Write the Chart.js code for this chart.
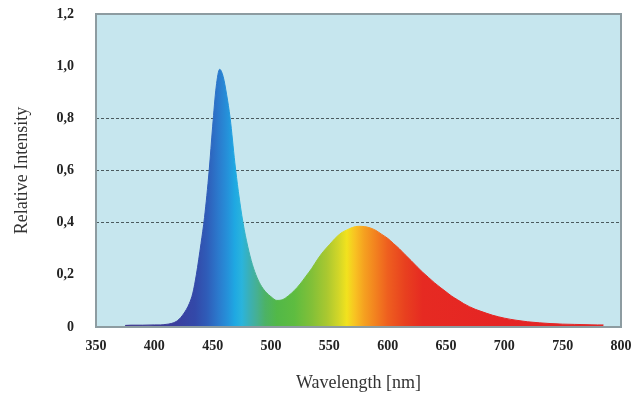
<!DOCTYPE html>
<html>
<head>
<meta charset="utf-8">
<script src="https://cdn.jsdelivr.net/npm/chart.js@4"></script>
<style>
  html, body { margin: 0; padding: 0; background: #fff; }
  #wrap { width: 631px; height: 396px; }
</style>
</head>
<body>
<div id="wrap"><canvas id="spectrum"></canvas></div>
<script>
// wavelength in nm and relative intensity
const wavelength = [375, 380, 390, 400, 405, 410, 415, 420, 425, 430, 433, 436, 440, 443, 447, 450, 453, 456, 459, 462, 465, 469, 472, 476, 480, 484, 488, 492, 496, 500, 505,
  510, 515, 520, 525, 530, 535, 540, 545, 550, 555, 560, 565, 570, 575, 580, 585, 590, 595, 600, 605, 610, 615, 620, 625, 630, 635, 640, 645, 650, 655, 660, 665, 670, 675, 680,
  690, 700, 710, 720, 730, 740, 750, 760, 770, 780, 785];
const intensity = [0.006, 0.007, 0.007, 0.008, 0.008, 0.01, 0.014, 0.025, 0.05, 0.09, 0.13, 0.2, 0.32, 0.42, 0.6, 0.77, 0.92, 0.988, 0.96, 0.89, 0.8, 0.63, 0.52, 0.4, 0.31, 0.24, 0.19, 0.155, 0.132, 0.116, 0.102,
  0.105, 0.12, 0.14, 0.165, 0.195, 0.225, 0.26, 0.29, 0.315, 0.34, 0.36, 0.372, 0.382, 0.386, 0.385, 0.38, 0.37, 0.355, 0.34, 0.32, 0.3, 0.277, 0.255, 0.232, 0.21, 0.19, 0.17, 0.152, 0.135, 0.118, 0.104, 0.09, 0.078, 0.068, 0.06,
  0.045, 0.034, 0.026, 0.02, 0.016, 0.013, 0.011, 0.01, 0.009, 0.008, 0.008];

const yTickLabels = ["0", "0,2", "0,4", "0,6", "0,8", "1,0", "1,2"];
const dashedLevels = [0.4, 0.6, 0.8];

// colour of the fill at each wavelength
const spectrumStops = [
  [375, "#3a2f88"], [400, "#3c3893"], [420, "#393f9f"], [435, "#3349a9"], [445, "#2f5cb8"],
  [455, "#2b7acd"], [463, "#2592da"], [469, "#1fa8e2"], [475, "#2ab4dc"], [481, "#3ab0b8"],
  [488, "#46b092"], [495, "#4cb266"], [505, "#52b848"], [520, "#5ebc40"], [535, "#82c038"],
  [548, "#aac830"], [558, "#d2d628"], [565, "#f2e21e"], [572, "#f8c222"], [580, "#f5a020"],
  [590, "#f2801f"], [600, "#ee5f1f"], [615, "#e8401f"], [630, "#e62a22"], [700, "#e52424"],
  [785, "#e02828"]
];

function spectrumFill(context) {
  const chart = context.chart;
  const area = chart.chartArea;
  if (!area) return "#2b78cc";
  const xs = chart.scales.x;
  const x0 = xs.getPixelForValue(375);
  const x1 = xs.getPixelForValue(785);
  const g = chart.ctx.createLinearGradient(x0, 0, x1, 0);
  spectrumStops.forEach(function (s) {
    g.addColorStop((xs.getPixelForValue(s[0]) - x0) / (x1 - x0), s[1]);
  });
  return g;
}

const plotFrame = {
  id: "plotFrame",
  beforeDraw(chart) {
    const a = chart.chartArea;
    const ctx = chart.ctx;
    ctx.save();
    ctx.fillStyle = "#c6e6ee";
    ctx.fillRect(a.left, a.top, a.right - a.left, a.bottom - a.top);
    ctx.restore();
  },
  afterDraw(chart) {
    const a = chart.chartArea;
    const ctx = chart.ctx;
    ctx.save();
    ctx.strokeStyle = "#8d9ca1";
    ctx.lineWidth = 2;
    ctx.strokeRect(a.left, a.top, a.right - a.left, a.bottom - a.top);
    ctx.restore();
  }
};

const points = wavelength.map(function (w, i) { return { x: w, y: intensity[i] }; });

new Chart(document.getElementById("spectrum"), {
  type: "line",
  data: {
    datasets: [{
      data: points,
      fill: "origin",
      backgroundColor: spectrumFill,
      borderColor: spectrumFill,
      borderWidth: 1,
      pointRadius: 0,
      cubicInterpolationMode: "monotone"
    }]
  },
  plugins: [plotFrame],
  options: {
    responsive: true,
    maintainAspectRatio: false,
    animation: false,
    layout: { padding: { left: 7, right: 10, top: 14, bottom: 0 } },
    plugins: {
      legend: { display: false },
      tooltip: { enabled: false }
    },
    scales: {
      x: {
        type: "linear",
        min: 350,
        max: 800,
        border: { display: false },
        grid: { display: false, drawTicks: false },
        ticks: {
          stepSize: 50,
          padding: 11,
          color: "#222",
          font: { family: "Liberation Serif", size: 14, weight: "bold" },
          maxRotation: 0
        },
        title: {
          display: true,
          text: "Wavelength [nm]",
          color: "#333",
          font: { family: "Liberation Serif", size: 18 },
          padding: { top: 0, bottom: 2 }
        },
        afterFit(scale) {
          scale.height = 69;
          scale.paddingLeft = 0;
          scale.paddingRight = 0;
        }
      },
      y: {
        min: 0,
        max: 1.2,
        border: { display: false, dash: [3, 2] },
        grid: {
          drawTicks: false,
          lineWidth: 1,
          color: function (c) {
            return dashedLevels.some(function (v) { return Math.abs(c.tick.value - v) < 1e-6; }) ? "#4a5a5e" : "rgba(0,0,0,0)";
          }
        },
        ticks: {
          stepSize: 0.2,
          padding: 22,
          color: "#222",
          font: { family: "Liberation Serif", size: 14, weight: "bold" },
          callback: function (v, i) { return yTickLabels[i]; }
        },
        title: {
          display: true,
          text: "Relative Intensity",
          color: "#333",
          font: { family: "Liberation Serif", size: 18 },
          padding: { top: 4, bottom: 4 }
        },
        afterFit(scale) {
          scale.width = 89;
          scale.paddingTop = 0;
          scale.paddingBottom = 0;
        }
      }
    }
  }
});
</script>
</body>
</html>
